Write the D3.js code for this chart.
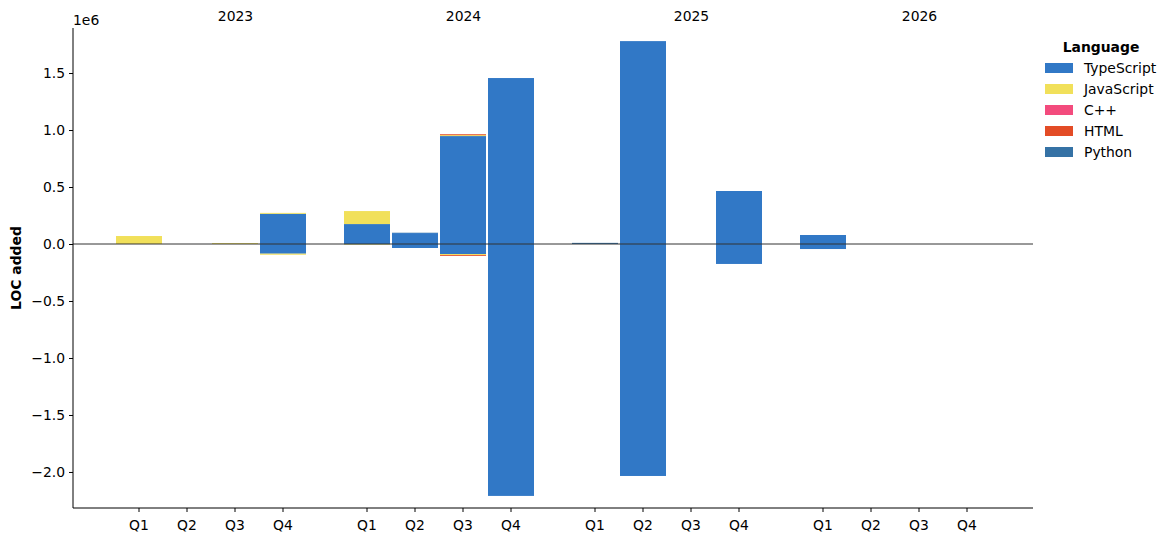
<!DOCTYPE html>
<html><head><meta charset="utf-8">
<script src="https://cdn.jsdelivr.net/npm/d3@7"></script>
<style>body{margin:0;background:#fff;font-family:"DejaVu Sans",sans-serif;}</style>
</head><body><svg id="c" width="1172" height="542"></svg>
<script>
const years = ["2023","2024","2025","2026"];
const quarters = ["Q1","Q2","Q3","Q4"];
const languages = ["TypeScript","JavaScript","C++","HTML","Python"];
const colors = ["#3178c6","#f1e05a","#f34b7d","#e34c26","#3572a5"];
const yTicks = [-2.0,-1.5,-1.0,-0.5,0.0,0.5,1.0,1.5];
// 16 quarters: 2023Q1..2026Q4, added (positive) and removed (negative)
const tsAdded   = [0,0,0,265000, 175000,96000,947000,1456000, 0,1780000,0,465000, 79000,0,0,0];
const tsRemoved = [0,0,0,-85000, -3000,-35000,-88000,-2210000, 0,-2035000,0,-175000, -44000,0,0,0];
const jsAdded   = [70000,0,8000,8000, 114000,0,8000,0, 0,0,0,0, 0,0,0,0];
const jsRemoved = [0,0,0,-9000, -5000,0,-8000,0, 0,0,0,0, 0,0,0,0];
const cppAdded  = [0,0,0,0, 0,0,0,0, 0,0,0,0, 0,0,0,0];
const cppRemoved= [0,0,0,0, 0,0,0,0, 0,0,0,0, 0,0,0,0];
const htmlAdded = [0,0,0,0, 0,0,8000,0, 0,0,0,0, 0,0,0,0];
const htmlRemoved=[0,0,0,0, 0,0,-8000,0, 0,0,0,0, 0,0,0,0];
const pyAdded   = [0,0,0,0, 0,3000,0,0, 10000,0,0,0, 0,0,0,0];
const pyRemoved = [0,0,0,0, 0,0,0,0, 0,0,0,0, 0,0,0,0];

const added = [tsAdded, jsAdded, cppAdded, htmlAdded, pyAdded];
const removed = [tsRemoved, jsRemoved, cppRemoved, htmlRemoved, pyRemoved];

const FS = 13.9;
const svg = d3.select("#c");
const L=73, R=1033, T=28, B=508;
const pos = (yi,qi) => yi*4.75 + qi;
const x = d3.scaleLinear().domain([-1.375, 18.625]).range([L,R]);
const y = d3.scaleLinear().domain([-2.316e6, 1.895e6]).range([B,T]);
const bw = 46;

// bars
const rects=[];
years.forEach((yr,yi)=>quarters.forEach((q,qi)=>{
  const i = yi*4+qi;
  let up=0, dn=0;
  languages.forEach((lg,li)=>{
    const a=added[li][i], r=removed[li][i];
    if(a>0){rects.push({p:pos(yi,qi),y0:up,y1:up+a,c:colors[li]}); up+=a;}
    if(r<0){rects.push({p:pos(yi,qi),y0:dn+r,y1:dn,c:colors[li]}); dn+=r;}
  });
}));
svg.append("g").selectAll("rect").data(rects).join("rect")
  .attr("x",d=>x(d.p)-bw/2).attr("width",bw)
  .attr("y",d=>y(d.y1)).attr("height",d=>Math.max(0,y(d.y0)-y(d.y1)))
  .attr("fill",d=>d.c);

// zero line
svg.append("line").attr("x1",L).attr("x2",R).attr("y1",y(0)).attr("y2",y(0))
  .attr("stroke","#333").attr("stroke-width",1);

// y axis
const ya = svg.append("g").attr("transform",`translate(${L},0)`)
  .call(d3.axisLeft(y).tickValues(yTicks.map(v=>v*1e6)).tickSize(4).tickPadding(4)
    .tickFormat(d=>{const v=d/1e6; return (v<0?"\u2212":"")+Math.abs(v).toFixed(1);}));
ya.select(".domain").attr("d",`M0,${T}V${B}`).attr("stroke","#000");
ya.selectAll("text").attr("font-size",FS).attr("font-family","DejaVu Sans").attr("fill","#000");

// x axis
const ticks=[];
years.forEach((yr,yi)=>quarters.forEach((q,qi)=>ticks.push({p:pos(yi,qi),t:q})));
const xa = svg.append("g").attr("transform",`translate(0,${B})`);
xa.append("line").attr("x1",L).attr("x2",R).attr("stroke","#000");
const tg = xa.selectAll("g").data(ticks).join("g").attr("transform",d=>`translate(${x(d.p)},0)`);
tg.append("line").attr("y2",4).attr("stroke","#000");
tg.append("text").attr("y",22).attr("text-anchor","middle").attr("font-size",FS).text(d=>d.t);

// year labels
svg.append("g").selectAll("text").data(years).join("text")
  .attr("x",(d,i)=>x(pos(i,2))+0.5).attr("y",21).attr("text-anchor","middle").attr("font-size",FS)
  .text(d=>d);

// 1e6 label
svg.append("text").attr("x",L).attr("y",25).attr("font-size",FS).text("1e6");

// y label
svg.append("text").attr("transform",`translate(21,${(T+B)/2}) rotate(-90)`)
  .attr("text-anchor","middle").attr("font-size",FS).attr("font-weight","bold").text("LOC added");

// legend
const lg = svg.append("g");
lg.append("text").attr("x",1101).attr("y",52).attr("text-anchor","middle").attr("font-size",FS).attr("font-weight","bold").text("Language");
const li = lg.selectAll("g.item").data(languages).join("g").attr("class","item")
  .attr("transform",(d,i)=>`translate(1045,${63+i*21})`);
li.append("rect").attr("width",28).attr("height",10).attr("fill",(d,i)=>colors[i]);
li.append("text").attr("x",39).attr("y",10).attr("font-size",FS).text(d=>d);
</script></body></html>
